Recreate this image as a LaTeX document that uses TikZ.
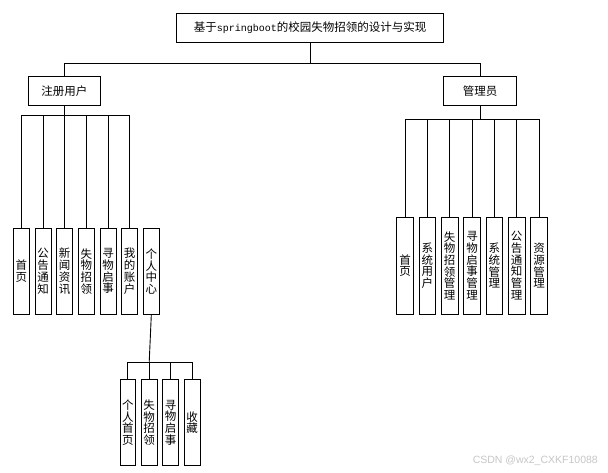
\documentclass[tikz,border=0pt]{standalone}
\usepackage{fontspec}
\setmainfont{Noto Sans CJK SC}
\newfontfamily\latmono{Liberation Mono}
\newfontfamily\wmfont{Liberation Sans}
\begin{document}
\begin{tikzpicture}[x=1pt,y=-1pt,
  box/.style={draw=black,line width=0.9pt,fill=white,inner sep=0pt,align=center,
    font=\fontsize{11.5}{11.7}\selectfont},
  hbox/.style={box,minimum height=29pt},
  lbox/.style={box,minimum width=16pt,minimum height=86pt,text width=12pt},
  rbox/.style={box,minimum width=16.7pt,minimum height=96.7pt,text width=12pt},
  bbox/.style={box,minimum width=15.7pt,minimum height=86.4pt,text width=12pt},
  conn/.style={draw=black,line width=0.9pt}]
\useasboundingbox (0,0) rectangle (608,472);
\fill[white] (0,0) rectangle (608,472);

% top level
\node[hbox,minimum width=267pt] (root) at (310.2,27.8) {基于{\latmono\fontsize{10}{11}\selectfont springboot}的校园失物招领的设计与实现};
\node[hbox,minimum width=72.7pt] (user) at (64.3,90.8) {注册用户};
\node[hbox,minimum width=72.6pt] (admin) at (480,90.8) {管理员};

\coordinate (bar0) at (0,63.3);
\coordinate (barL) at (0,115.7);
\coordinate (barR) at (0,119);
\coordinate (barB) at (0,362.3);

% left children
\node[lbox] (l1) at (21.3,271.2) {首\\页};
\node[lbox] (l2) at (43.0,271.2) {公\\告\\通\\知};
\node[lbox] (l3) at (64.7,271.2) {新\\闻\\资\\讯};
\node[lbox] (l4) at (86.3,271.2) {失\\物\\招\\领};
\node[lbox] (l5) at (108.0,271.2) {寻\\物\\启\\事};
\node[lbox] (l6) at (129.7,271.2) {我\\的\\账\\户};
\node[lbox] (l7) at (151.3,271.6) {个\\人\\中\\心};

% right children
\node[rbox] (r1) at (405.0,265.7) {首\\页};
\node[rbox] (r2) at (427.3,265.7) {系\\统\\用\\户};
\node[rbox] (r3) at (449.7,265.7) {失\\物\\招\\领\\管\\理};
\node[rbox] (r4) at (472.0,265.7) {寻\\物\\启\\事\\管\\理};
\node[rbox] (r5) at (494.3,265.7) {系\\统\\管\\理};
\node[rbox] (r6) at (516.7,265.7) {公\\告\\通\\知\\管\\理};
\node[rbox] (r7) at (539.0,265.7) {资\\源\\管\\理};

% bottom children
\node[bbox] (b1) at (127.8,422.5) {个\\人\\首\\页};
\node[bbox] (b2) at (149.2,422.5) {失\\物\\招\\领};
\node[bbox] (b3) at (170.5,422.5) {寻\\物\\启\\事};
\node[bbox] (b4) at (192.2,422.5) {收\\藏};

% connectors: top
\draw[conn] (root.south) -- (root.south |- bar0);
\draw[conn] (user.north |- bar0) -- (admin.north |- bar0);
\draw[conn] (user.north |- bar0) -- (user.north);
\draw[conn] (admin.north |- bar0) -- (admin.north);

% left
\draw[conn] (user.south) -- (user.south |- barL);
\draw[conn] (l1.north |- barL) -- (l6.north |- barL);
\foreach \n in {l1,l2,l3,l4,l5,l6}
  \draw[conn] (\n.north |- barL) -- (\n.north);

% right
\draw[conn] (admin.south) -- (admin.south |- barR);
\draw[conn] (r1.north |- barR) -- (r7.north |- barR);
\foreach \n in {r1,r2,r3,r4,r5,r6,r7}
  \draw[conn] (\n.north |- barR) -- (\n.north);

% bottom
\draw[conn] (l7.south) -- (b2.north |- barB);
\draw[conn] (b1.north |- barB) -- (b4.north |- barB);
\foreach \n in {b1,b2,b3,b4}
  \draw[conn] (\n.north |- barB) -- (\n.north);

% watermark
\node[anchor=east,inner sep=0pt,text=black!22,font=\wmfont\fontsize{10.5}{12}\selectfont] (wm) at (598,461) {CSDN @wx2\_CXKF10088};
\end{tikzpicture}
\end{document}
